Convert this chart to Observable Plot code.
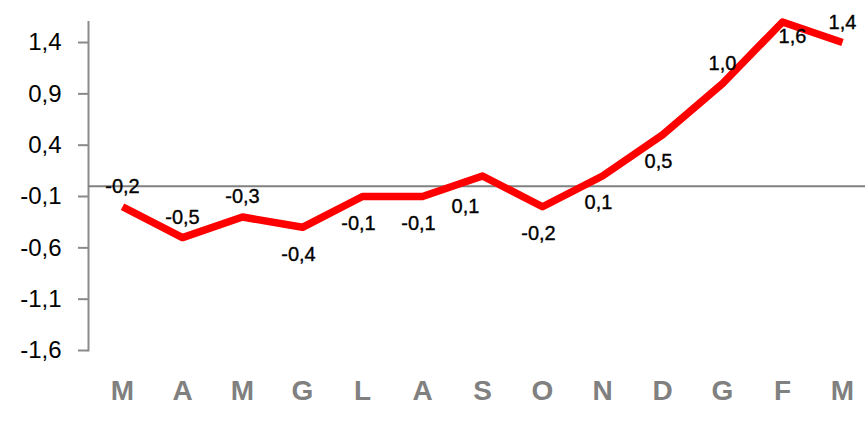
<!DOCTYPE html>
<html>
<head>
<meta charset="utf-8">
<script src="https://cdn.jsdelivr.net/npm/d3@7"></script>
<script src="https://cdn.jsdelivr.net/npm/@observablehq/plot@0.6"></script>
<style>
  html, body { margin: 0; padding: 0; background: #fff; }
  svg { display: block; }
</style>
</head>
<body>
<div id="chart"></div>
<script>
const months = ["M","A","M","G","L","A","S","O","N","D","G","F","M"];
const values = [-0.2,-0.5,-0.3,-0.4,-0.1,-0.1,0.1,-0.2,0.1,0.5,1.0,1.6,1.4];
const yTicks = [-1.6,-1.1,-0.6,-0.1,0.4,0.9,1.4];
const labelSide = ["above","above","above","below","below","below","below-left","below","below","below","above","below-right","above"];

const data = months.map((m, i) => ({i, month: m, value: values[i], side: labelSide[i]}));
const fmt = v => v.toFixed(1).replace(".", ",");
const font = "'Liberation Sans', Arial, sans-serif";

const labelStyle = {
  x: "i", y: "value", text: d => fmt(d.value),
  fontSize: 20, fill: "#000", stroke: "#000", strokeWidth: 0.35, fontFamily: font
};

const chart = Plot.plot({
  width: 865,
  height: 435,
  marginLeft: 88,
  marginRight: 0,
  marginTop: 21.5,
  marginBottom: 85,
  style: {fontFamily: font, background: "#fff"},
  x: {type: "point", domain: d3.range(months.length), range: [117, 846], padding: 0},
  y: {domain: [-1.6, 1.6]},
  marks: [
    Plot.frame({anchor: "left", stroke: "#8a8a8a", strokeWidth: 2}),
    Plot.axisY({
      ticks: yTicks, tickFormat: fmt, tickSize: 10, tickPadding: 17,
      fontSize: 24, fill: "#000", stroke: "#8a8a8a", strokeWidth: 2, label: null
    }),
    Plot.axisX({
      tickSize: 0, tickPadding: 30, tickFormat: i => months[i],
      fontSize: 28, fontWeight: "bold", fill: "#808080", label: null
    }),
    Plot.ruleY([0], {stroke: "#808080", strokeWidth: 2}),
    Plot.line(data, {x: "i", y: "value", stroke: "#ff0000", strokeWidth: 7.5, strokeLinejoin: "round", strokeLinecap: "butt"}),
    Plot.text(data.filter(d => d.side === "above"), {...labelStyle, dy: -20}),
    Plot.text(data.filter(d => d.side === "below"), {...labelStyle, dx: -4, dy: 27}),
    Plot.text(data.filter(d => d.side === "below-left"), {...labelStyle, dx: -17, dy: 31}),
    Plot.text(data.filter(d => d.side === "below-right"), {...labelStyle, dx: 10, dy: 15})
  ]
});
document.getElementById("chart").appendChild(chart);
</script>
</body>
</html>
